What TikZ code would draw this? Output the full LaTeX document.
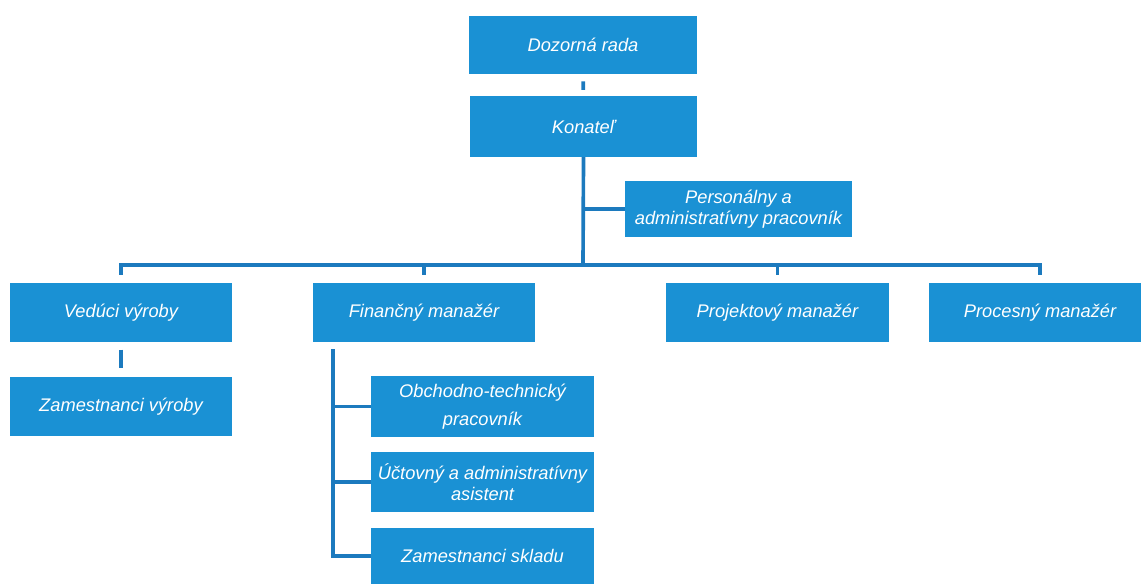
\documentclass[tikz,border=0pt]{standalone}
\usepackage{fontspec}
\setmainfont{Liberation Sans}
\definecolor{boxblue}{RGB}{26,145,212}
\definecolor{lineblue}{RGB}{28,122,190}

\begin{document}
\begin{tikzpicture}[x=0.025cm,y=-0.025cm,
  orgbox/.style={fill=boxblue,text=white,font=\fontsize{13}{14.6}\selectfont\itshape,align=center,inner sep=0pt,minimum width=5.55cm,minimum height=1.48cm},
  link/.style={draw=lineblue,line width=2.6pt}]
\useasboundingbox (0,0) rectangle (1141,584);
\node[orgbox,minimum width=5.7cm,minimum height=1.45cm] (dozor) at (583,45) {Dozorná rada};
\node[orgbox,minimum width=5.68cm,minimum height=1.52cm] (konatel) at (583.5,126.5) {Konateľ};
\node[orgbox,minimum width=5.68cm,minimum height=1.4cm] (personal) at (738.5,209) {Personálny a\\administratívny pracovník};
\node[orgbox] (vedouci) at (121,312.5) {Vedúci výroby};
\node[orgbox] (financ) at (424,312.5) {Finančný manažér};
\node[orgbox] (projekt) at (777.5,312.5) {Projektový manažér};
\node[orgbox] (proces) at (1040,312.5) {Procesný manažér};
\node[orgbox] (zamvyr) at (121,406.5) {Zamestnanci výroby};
\node[orgbox,minimum width=5.58cm,minimum height=1.52cm] (obchod) at (482.5,406.5) {Obchodno-technický\\[5pt]pracovník};
\node[orgbox,minimum width=5.58cm,minimum height=1.5cm] (uctov) at (482.5,482) {Účtovný a administratívny\\asistent};
\node[orgbox,minimum width=5.58cm,minimum height=1.4cm] (sklad) at (482.5,556) {Zamestnanci skladu};
\coordinate (bus) at (583,265);
\coordinate (spine) at (333,349);
\draw[link,shorten <=0.18cm,shorten >=0.15cm] (dozor) -- (konatel);
\draw[link] (konatel.south) -- (bus);
\draw[link] (personal.west) -- (personal.west -| konatel.south);
\draw[link,shorten <=0.2cm,shorten >=0.2cm] (vedouci.north) |- (bus) -| (proces.north);
\draw[link,shorten <=0.2cm] (financ.north) -- (financ.north |- bus);
\draw[link,shorten <=0.2cm] (projekt.north) -- (projekt.north |- bus);
\draw[link,shorten <=0.18cm,shorten >=0.22cm] (vedouci) -- (zamvyr);
\draw[link] (spine) |- (sklad.west);
\draw[link] (obchod.west) -- (obchod.west -| spine);
\draw[link] (uctov.west) -- (uctov.west -| spine);
\end{tikzpicture}
\end{document}
